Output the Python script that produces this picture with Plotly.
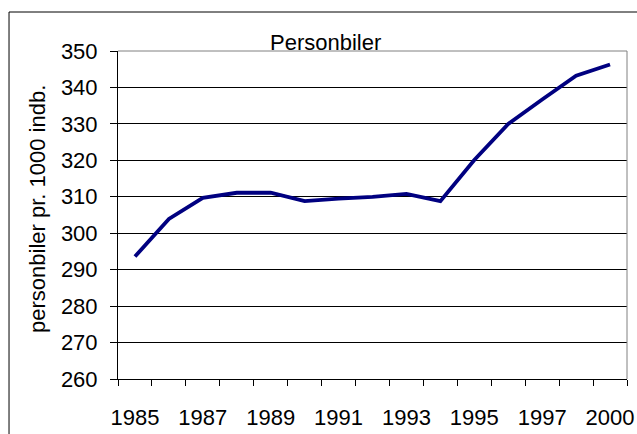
import plotly.graph_objects as go

years = ["1985", "1986", "1987", "1988", "1989", "1990", "1991", "1992",
         "1993", "1994", "1995", "1996", "1997", "1998", "2000"]
values = [293.6, 303.9, 309.7, 311.1, 311.1, 308.8, 309.5, 310.0,
          310.8, 308.8, 320.1, 330.0, 336.7, 343.2, 346.3]
tick_labels = [y if i % 2 == 0 else "" for i, y in enumerate(years)]
y_ticks = [260, 270, 280, 290, 300, 310, 320, 330, 340, 350]

title_text = "Personbiler"
y_title = "personbiler pr. 1000 indb."

FONT = "Liberation Sans, Arial, sans-serif"

fig = go.Figure()
fig.add_trace(go.Scatter(
    x=years, y=values, mode="lines",
    line=dict(color="#000080", width=3.8),
    showlegend=False, hoverinfo="skip",
))

fig.update_layout(
    width=637, height=434,
    margin=dict(l=118, r=10, t=51, b=55),
    paper_bgcolor="white", plot_bgcolor="white",
    font=dict(family=FONT, size=22, color="black"),
    xaxis=dict(
        type="category", range=[-0.5, len(years) - 0.5],
        tickmode="array", tickvals=years, ticktext=tick_labels,
        tickson="boundaries", ticks="outside", ticklen=6, tickcolor="black", tickwidth=1,
        showline=True, linecolor="black", linewidth=1,
        showgrid=False, zeroline=False, tickangle=0, automargin=False,
        ticklabelstandoff=19,
        tickfont=dict(family=FONT, size=22, color="black"),
    ),
    yaxis=dict(
        range=[260, 350], tickmode="array", tickvals=y_ticks,
        ticks="outside", ticklen=7, tickcolor="black", tickwidth=1,
        showline=True, linecolor="black", linewidth=1, automargin=False,
        showgrid=True, gridcolor="black", gridwidth=1, zeroline=False,
        ticklabelstandoff=8,
        tickfont=dict(family=FONT, size=22, color="black"),
    ),
    shapes=[
        dict(type="line", xref="paper", yref="paper", x0=0, x1=1, y0=1, y1=1,
             line=dict(color="#808080", width=1), layer="above"),
        dict(type="line", xref="paper", yref="paper", x0=1, x1=1, y0=0, y1=1,
             line=dict(color="#808080", width=1), layer="above"),
        dict(type="rect", xref="paper", yref="paper",
             x0=-0.2141, x1=1.05, y0=-0.2, y1=1.1189,
             line=dict(color="black", width=1), fillcolor="rgba(0,0,0,0)", layer="above"),
    ],
    annotations=[
        dict(text=title_text, xref="paper", yref="paper", x=0.4086, y=1.0274,
             xanchor="center", yanchor="middle", showarrow=False,
             font=dict(family=FONT, size=22, color="black")),
        dict(text=y_title, xref="paper", yref="paper", x=-0.1572, y=0.5183,
             xanchor="center", yanchor="middle", textangle=-90, showarrow=False,
             font=dict(family=FONT, size=22, color="black")),
    ],
)

fig.write_html("out.html", config={"displayModeBar": False},
               post_script="document.body.style.margin='0';document.body.style.overflow='hidden';")
